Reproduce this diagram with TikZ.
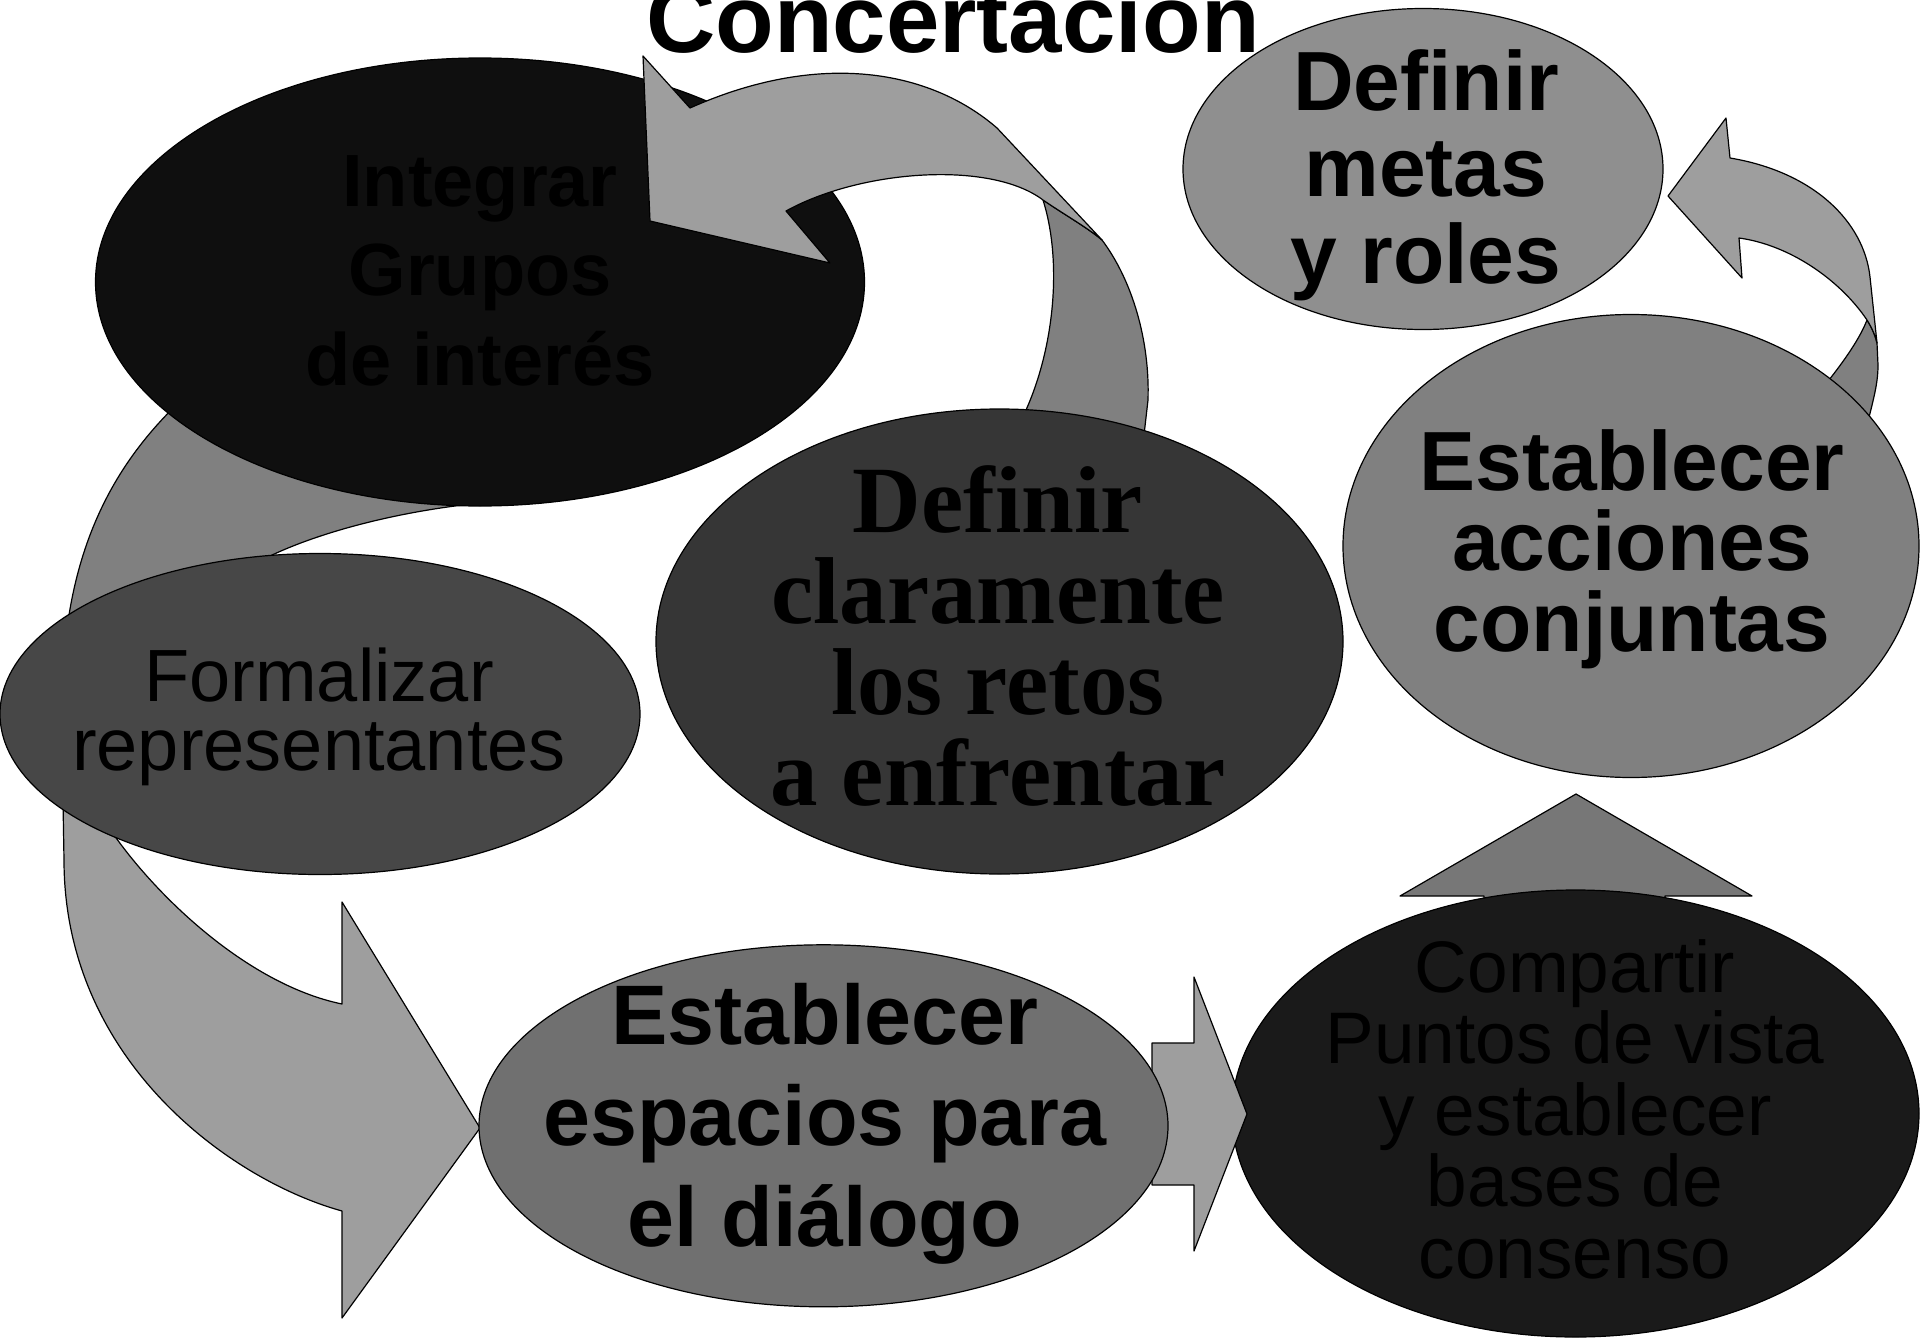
\documentclass[tikz,border=0pt]{standalone}
\usepackage{fontspec}
\setmainfont{Liberation Sans}
\newfontfamily\timesfam{Liberation Serif}
\usetikzlibrary{shapes.geometric}
\definecolor{integrarfill}{HTML}{0F0F0F}
\definecolor{formfill}{HTML}{474747}
\definecolor{clarfill}{HTML}{363636}
\definecolor{espfill}{HTML}{707070}
\definecolor{compfill}{HTML}{1A1A1A}
\definecolor{accfill}{HTML}{808080}
\definecolor{metasfill}{HTML}{8F8F8F}
\definecolor{arrowlight}{HTML}{9E9E9E}
\definecolor{arrowdark}{HTML}{808080}
\definecolor{arrowup}{HTML}{777777}
\begin{document}
\begin{tikzpicture}[x=1pt,y=-1pt,
  ell/.style={ellipse, draw=black, line width=1.2pt, inner sep=0pt, outer sep=0pt},
  band/.style={draw=black, line width=1.2pt, line join=round},
  lbl/.style={anchor=base, align=center, text=black, inner sep=0pt, outer sep=0pt},
]
\useasboundingbox (0,0) rectangle (1920,1338);

% left arrow, back (upper) part
\draw[band, fill=arrowdark] (420,330) -- (230,360) .. controls (120,440) and (64,540) .. (62,700)
  -- (200,700) -- (262,560) .. controls (320,530) and (420,505) .. (520,500) -- cycle;

\node[ell, fill=integrarfill, minimum width=769pt, minimum height=448pt] (integrar) at (480,282) {};

% top arrow (from challenges to groups)
\draw[band, fill=arrowdark] (1043,200) .. controls (1065,215) and (1088,228) .. (1102,240)
  .. controls (1132,280) and (1150,340) .. (1148,400) -- (1140,470) -- (1020,470) -- (1026,410)
  .. controls (1055,345) and (1062,260) .. (1043,200) -- cycle;
\draw[band, fill=arrowlight] (643,56) -- (650,221) -- (830,263) -- (786,211)
  .. controls (860,170) and (990,160) .. (1043,200)
  .. controls (1065,215) and (1088,228) .. (1102,240) -- (997,128)
  .. controls (930,70) and (820,50) .. (690,108) -- cycle;

% left arrow, front (lower) part
\draw[band, fill=arrowlight] (62,740) -- (64,860) .. controls (64,1060) and (230,1180) .. (342,1211)
  -- (342,1318) -- (480,1128) -- (342,902) -- (342,1004)
  .. controls (250,985) and (160,900) .. (114,835) -- (150,760) -- cycle;

\node[ell, fill=formfill, minimum width=640pt, minimum height=321pt] (formalizar) at (320,714) {};
\node[ell, fill=clarfill, minimum width=687pt, minimum height=465pt] (claramente) at (999.5,641.5) {};

% upward arrow (under Compartir)
\draw[band, fill=arrowup] (1576,794) -- (1752,896) -- (1665,896) -- (1665,980) -- (1484,980)
  -- (1484,896) -- (1400,896) -- cycle;
\node[ell, fill=compfill, minimum width=687pt, minimum height=447pt] (compartir) at (1575.5,1113.5) {};

% small right arrow
\draw[band, fill=arrowlight] (1152,1043) -- (1194,1043) -- (1194,977) -- (1247,1114) -- (1194,1251)
  -- (1194,1185) -- (1152,1185) -- cycle;
\node[ell, fill=espfill, minimum width=689pt, minimum height=362pt] (espacios) at (823.5,1125.8) {};

% top-right curved arrow
\draw[band, fill=arrowdark] (1867,320) .. controls (1872,328) and (1875,335) .. (1877,343)
  -- (1878,365) .. controls (1878,385) and (1873,400) .. (1866,430) -- (1815,430) -- (1825,385)
  .. controls (1845,360) and (1860,338) .. (1867,320) -- cycle;
\draw[band, fill=arrowlight] (1726,118) -- (1668,196) -- (1742,278) -- (1739,238)
  .. controls (1790,245) and (1840,280) .. (1867,320)
  .. controls (1872,328) and (1875,335) .. (1877,343) -- (1870,277)
  .. controls (1864,222) and (1814,172) .. (1730,158) -- cycle;

\node[ell, fill=accfill, minimum width=576pt, minimum height=463pt] (acciones) at (1631,546) {};
\node[ell, fill=metasfill, minimum width=480pt, minimum height=321pt] (metas) at (1423,169) {};

% texts (anchor=base is the baseline of the last line)
\node[lbl, font=\fontsize{74}{89.7}\selectfont\bfseries] (t-integrar) at (480,385.5)
  {Integrar\\Grupos\\de interés};
\node[lbl, font=\fontsize{74}{69}\selectfont] (t-formalizar) at (319,770)
  {Formalizar\\representantes};
\node[lbl, font=\fontsize{95}{91}\selectfont\timesfam\bfseries] (t-claramente) at (998,805)
  {Definir\\claramente\\los retos\\a enfrentar};
\node[lbl, font=\fontsize{84.5}{101.3}\selectfont\bfseries] (t-espacios) at (825,1246.6)
  {Establecer\\espacios para\\el diálogo};
\node[lbl, font=\fontsize{73}{71.65}\selectfont] (t-compartir) at (1575,1278.6)
  {Compartir\\Puntos de vista\\y establecer\\bases de\\consenso};
\node[lbl, font=\fontsize{84}{80.8}\selectfont\bfseries] (t-acciones) at (1632,651.6)
  {Establecer\\acciones\\conjuntas};
\node[lbl, font=\fontsize{84}{86.7}\selectfont\bfseries] (t-metas) at (1426,283.4)
  {Definir\\metas\\y roles};
\node[lbl, font=\fontsize{96}{96}\selectfont\bfseries] (title) at (953,53) {Concertación};
\end{tikzpicture}
\end{document}
